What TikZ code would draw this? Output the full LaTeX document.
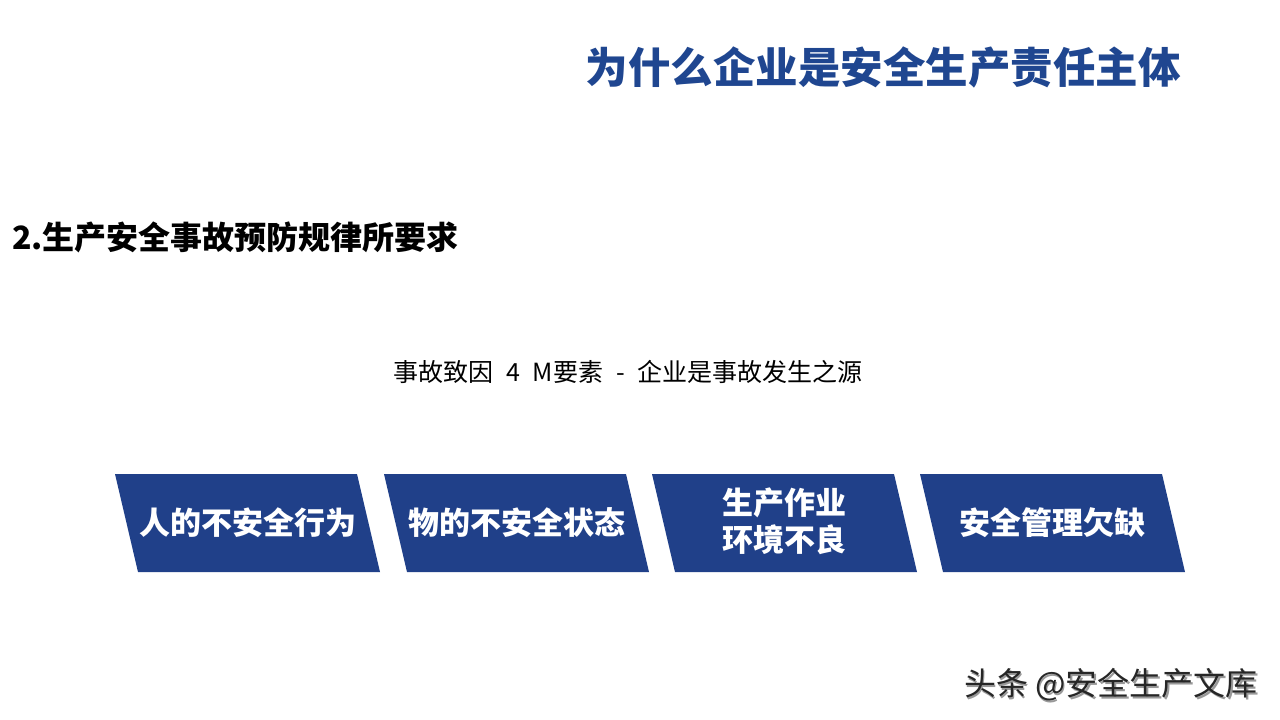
\documentclass[tikz,border=0pt]{standalone}
\usepackage{fontspec}
\newfontfamily\cjk{Noto Sans CJK SC}
\definecolor{boxblue}{RGB}{32,64,137}
\definecolor{titleblue}{RGB}{31,70,144}
\begin{document}
\begin{tikzpicture}[x=1pt,y=-1pt,
  txt/.style={inner sep=0pt,font=\cjk},
  boxtxt/.style={inner sep=0pt,text=white,align=center,font=\cjk\bfseries\fontsize{31}{37}\selectfont},
  para/.style={fill=boxblue}]
\useasboundingbox[fill=white] (0,0) rectangle (1280,720);
% title
\node[txt,text=titleblue,font=\cjk\bfseries\fontsize{42.5}{50}\selectfont] (title) at (883,67) {为什么企业是安全生产责任主体};
% subtitle
\node[txt,anchor=west,font=\cjk\bfseries\fontsize{32}{38}\selectfont] (sub) at (12,237) {2.生产安全事故预防规律所要求};
% caption
\node[txt,font=\cjk\fontsize{25}{29}\selectfont] (cap) at (628,372) {\spaceskip=13pt事故致因 4 M要素 - 企业是事故发生之源};
% parallelograms
\foreach \x [count=\i] in {115,384,652,920}{
  \fill[para] (\x,474) -- (\x+242,474) -- (\x+265,572) -- (\x+23,572) -- cycle;
}
\node[boxtxt] (b1) at (247.5,523) {人的不安全行为};
\node[boxtxt] (b2) at (516.5,523) {物的不安全状态};
\node[boxtxt] (b3) at (784.5,521) {生产作业\\环境不良};
\node[boxtxt] (b4) at (1052.5,523) {安全管理欠缺};
% watermark
\node[txt,text=black!40,font=\cjk\fontsize{32}{36}\selectfont] (wmsh) at (1112.5,686.5) {头条 @安全生产文库};
\node[txt,text=black!85,font=\cjk\fontsize{32}{36}\selectfont] (wm) at (1111,685) {头条 @安全生产文库};
\end{tikzpicture}
\end{document}
